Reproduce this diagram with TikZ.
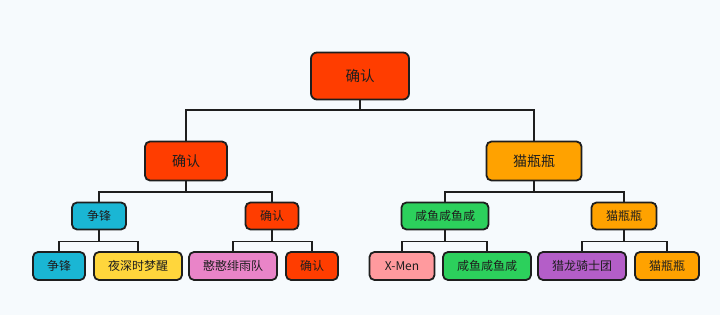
\documentclass[tikz,border=0pt]{standalone}
\usepackage{fontspec}
\setmainfont{Noto Sans CJK SC}
\usepackage{xcolor}
\usepackage{tikz}
\usetikzlibrary{positioning, calc}
\definecolor{pagebg}{RGB}{246,250,253}
\definecolor{tred}{RGB}{255,61,0}
\definecolor{torange}{RGB}{255,162,0}
\definecolor{tcyan}{RGB}{26,182,212}
\definecolor{tyellow}{RGB}{255,214,60}
\definecolor{tpink}{RGB}{233,132,200}
\definecolor{tsalmon}{RGB}{255,154,158}
\definecolor{tgreen}{RGB}{44,208,92}
\definecolor{tpurple}{RGB}{180,94,200}
\definecolor{tinkk}{RGB}{30,30,30}

\begin{document}
\begin{tikzpicture}[x=1pt, y=-1pt,
    nodebox/.style={rectangle, rounded corners=5pt, draw=tinkk, line width=1.8pt,
                    text=tinkk, align=center, inner sep=0pt,
                    font=\fontsize{12}{14}\selectfont, minimum height=27pt},
    toplevel/.style={nodebox, rounded corners=6pt, minimum height=47pt,
                     font=\fontsize{14.5}{16}\selectfont},
    midlevel/.style={nodebox, minimum height=39pt, font=\fontsize{14}{16}\selectfont},
    link/.style={tinkk, line width=1.8pt}
  ]
    \fill[pagebg] (0,0) rectangle (720,315);
    \useasboundingbox (0,0) rectangle (720,315);

    % root
    \node[toplevel, fill=tred, minimum width=98pt] at (360,76) (root) {确认};

    % first level
    \node[midlevel, fill=tred, minimum width=82pt] at (186,161) (queren) {确认};
    \node[midlevel, fill=torange, minimum width=95pt] at (534,161) (maoping) {猫瓶瓶};

    % second level
    \node[nodebox, fill=tcyan, minimum width=54pt] at (99,216) (zhengfeng) {争锋};
    \node[nodebox, fill=tred, minimum width=53pt] at (272,216) (querenb) {确认};
    \node[nodebox, fill=tgreen, minimum width=87pt] at (445,216) (xianyu) {咸鱼咸鱼咸};
    \node[nodebox, fill=torange, minimum width=65pt] at (624,216) (maopingb) {猫瓶瓶};

    % leaves
    \node[nodebox, fill=tcyan, minimum width=52pt, minimum height=28pt] at (59,266) (zfleaf) {争锋};
    \node[nodebox, fill=tyellow, minimum width=88pt, minimum height=28pt] at (138,266) (yeshen) {夜深时梦醒};
    \node[nodebox, fill=tpink, minimum width=88pt, minimum height=28pt] at (233,266) (hanhan) {憨憨绯雨队};
    \node[nodebox, fill=tred, minimum width=52pt, minimum height=28pt] at (312,266) (qrleaf) {确认};
    \node[nodebox, fill=tsalmon, minimum width=65pt, minimum height=28pt] at (402,266) (xmen) {X-Men};
    \node[nodebox, fill=tgreen, minimum width=88pt, minimum height=28pt] at (487,266) (xyleaf) {咸鱼咸鱼咸};
    \node[nodebox, fill=tpurple, minimum width=88pt, minimum height=28pt] at (582,266) (lielong) {猎龙骑士团};
    \node[nodebox, fill=torange, minimum width=64pt, minimum height=28pt] at (667,266) (mpleaf) {猫瓶瓶};

    % connectors
    \draw[link] (root.south) -- ++(0,10) -| (queren.north);
    \draw[link] (root.south) -- ++(0,10) -| (maoping.north);
    \draw[link] (queren.south) -- ++(0,11) -| (zhengfeng.north);
    \draw[link] (queren.south) -- ++(0,11) -| (querenb.north);
    \draw[link] (maoping.south) -- ++(0,11) -| (xianyu.north);
    \draw[link] (maoping.south) -- ++(0,11) -| (maopingb.north);
    \draw[link] (zhengfeng.south) -- ++(0,11) -| (zfleaf.north);
    \draw[link] (zhengfeng.south) -- ++(0,11) -| (yeshen.north);
    \draw[link] (querenb.south) -- ++(0,11) -| (hanhan.north);
    \draw[link] (querenb.south) -- ++(0,11) -| (qrleaf.north);
    \draw[link] (xianyu.south) -- ++(0,11) -| (xmen.north);
    \draw[link] (xianyu.south) -- ++(0,11) -| (xyleaf.north);
    \draw[link] (maopingb.south) -- ++(0,11) -| (lielong.north);
    \draw[link] (maopingb.south) -- ++(0,11) -| (mpleaf.north);
  \end{tikzpicture}
\end{document}
